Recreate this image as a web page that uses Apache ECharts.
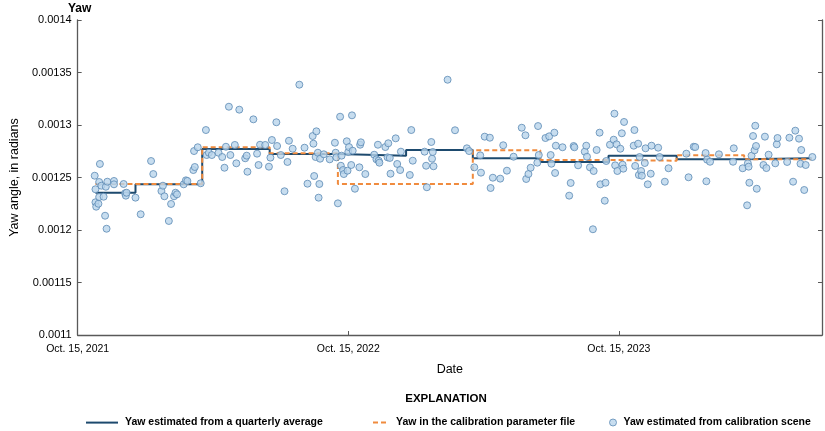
<!DOCTYPE html>
<html><head><meta charset="utf-8">
<script src="https://cdn.jsdelivr.net/npm/echarts@6/dist/echarts.min.js"></script>
<style>html,body{margin:0;padding:0;background:#fff}#c{width:825px;height:431px}</style>
</head><body><div id="c"></div>
<script>
const FONT = "'Liberation Sans',Arial,sans-serif";

// x values are days since Oct. 15, 2021
const xTickDays = [0, 365, 730];
const xTickLabels = ["Oct. 15, 2021", "Oct. 15, 2022", "Oct. 15, 2023"];

// quarter start days (last entry = end of last quarter)
const quarterStartDays = [24, 78, 168, 259, 351, 443, 533, 624, 716, 808, 899, 990];
const quarterlyAverage = [0.0012355, 0.0012435, 0.0012771, 0.0012724, 0.0012708, 0.0012762, 0.0012683, 0.0012648, 0.0012706, 0.0012673, 0.0012683, 0.0012683];
const calibrationParam = [0.0012438, 0.0012438, 0.0012788, 0.0012730, 0.0012438, 0.0012438, 0.0012759, 0.0012667, 0.0012660, 0.0012711, 0.0012673, 0.0012673];

const sceneDays = [23,24,24,25,28,29,29,30,32,35,37,38,39,40,49,49,62,64,65,66,78,85,99,102,113,115,117,123,126,130,132,134,143,146,148,156,157,158,162,166,173,174,177,181,190,195,198,200,204,206,212,214,218,226,228,229,237,242,244,246,253,258,260,262,268,269,274,279,283,285,290,299,306,310,317,318,319,321,322,324,325,326,327,332,340,347,348,349,351,354,355,356,358,359,363,364,365,366,370,369,371,374,380,381,382,388,400,403,405,406,407,415,418,419,421,422,429,431,435,436,448,450,452,468,470,471,477,478,479,480,499,509,525,528,535,543,544,549,556,557,560,570,574,579,588,599,604,605,608,611,620,621,622,631,636,638,639,643,644,645,654,663,665,669,670,675,684,686,687,691,695,696,700,704,705,711,712,713,718,723,724,725,727,728,732,734,735,736,737,750,751,752,756,757,758,760,761,765,766,769,773,774,783,785,792,797,821,824,831,833,847,848,849,853,865,884,885,897,903,904,905,906,909,911,913,914,915,916,925,927,929,932,941,943,944,957,960,965,968,973,975,976,980,982,991];
const sceneYaw = [0.0012517,0.0012388,0.0012264,0.0012222,0.0012250,0.0012457,0.0012314,0.0012629,0.0012422,0.0012317,0.0012136,0.0012412,0.0012012,0.0012460,0.0012467,0.0012435,0.0012438,0.0012350,0.0012327,0.0012355,0.0012308,0.0012150,0.0012657,0.0012533,0.0012371,0.0012422,0.0012321,0.0012086,0.0012248,0.0012321,0.0012355,0.0012340,0.0012435,0.0012473,0.0012467,0.0012571,0.0012752,0.0012600,0.0012788,0.0012445,0.0012952,0.0012714,0.0012736,0.0012714,0.0012736,0.0012695,0.0012593,0.0012793,0.0013174,0.0012714,0.0012810,0.0012635,0.0013146,0.0012683,0.0012708,0.0012555,0.0013054,0.0012727,0.0012619,0.0012812,0.0012810,0.0012603,0.0012689,0.0012857,0.0013026,0.0012800,0.0012714,0.0012369,0.0012648,0.0012850,0.0012774,0.0013384,0.0012784,0.0012441,0.0012895,0.0012822,0.0012514,0.0012695,0.0012940,0.0012736,0.0012308,0.0012438,0.0012679,0.0012721,0.0012673,0.0012831,0.0012736,0.0012692,0.0012254,0.0013079,0.0012612,0.0012708,0.0012571,0.0012533,0.0012845,0.0012565,0.0012743,0.0012790,0.0013092,0.0012619,0.0012755,0.0012393,0.0012597,0.0012812,0.0012835,0.0012533,0.0012717,0.0012673,0.0012812,0.0012660,0.0012641,0.0012790,0.0012692,0.0012826,0.0012686,0.0012536,0.0012873,0.0012629,0.0012571,0.0012746,0.0012524,0.0012952,0.0012660,0.0012746,0.0012612,0.0012407,0.0012838,0.0012679,0.0012743,0.0012607,0.0013431,0.0012950,0.0012778,0.0012752,0.0012597,0.0012711,0.0012546,0.0012889,0.0012879,0.0012400,0.0012498,0.0012489,0.0012807,0.0012565,0.0012698,0.0012974,0.0012902,0.0012486,0.0012533,0.0012593,0.0012641,0.0012990,0.0012714,0.0012876,0.0012892,0.0012714,0.0012631,0.0012927,0.0012543,0.0012803,0.0012788,0.0012327,0.0012448,0.0012800,0.0012788,0.0012616,0.0012746,0.0012803,0.0012698,0.0012597,0.0012007,0.0012562,0.0012762,0.0012927,0.0012435,0.0012279,0.0012450,0.0012657,0.0012812,0.0012860,0.0013108,0.0012616,0.0012816,0.0012562,0.0012774,0.0012921,0.0012622,0.0012584,0.0013029,0.0012803,0.0012952,0.0012610,0.0012822,0.0012524,0.0012695,0.0012562,0.0012517,0.0012638,0.0012778,0.0012435,0.0012536,0.0012803,0.0012784,0.0012695,0.0012460,0.0012588,0.0012727,0.0012502,0.0012793,0.0012790,0.0012733,0.0012464,0.0012670,0.0012650,0.0012721,0.0012650,0.0012778,0.0012588,0.0012235,0.0012635,0.0012603,0.0012450,0.0012708,0.0012895,0.0012759,0.0012993,0.0012800,0.0012393,0.0012619,0.0012889,0.0012590,0.0012717,0.0012635,0.0012816,0.0012876,0.0012648,0.0012879,0.0012460,0.0012946,0.0012870,0.0012631,0.0012762,0.0012381,0.0012619,0.0012695];

const seriesNames = ["Yaw estimated from a quarterly average", "Yaw in the calibration parameter file", "Yaw estimated from calibration scene"];

const BLUE = '#1d4a6e', ORANGE = '#f08b3e', PT_FILL = '#b9d4eb', PT_EDGE = '#5b89b4', AXIS = '#595959';

const LEG_SIZE = 10.5;
const legendText = {fontFamily: FONT, fontSize: LEG_SIZE, fontWeight: 'bold', color: '#000', padding: [0, 0, 0, 2]};
const hiddenSymbol = {opacity: 0, borderWidth: 0};
// place each legend item so that its text ends where the reference text ends
const measureCtx = document.createElement('canvas').getContext('2d');
measureCtx.font = 'bold ' + LEG_SIZE + 'px ' + FONT;
const legendRightEdges = [322, 574, 810];
const legendIconWidths = [32, 16, 7];
const legendLeft = i => Math.round(legendRightEdges[i] - measureCtx.measureText(seriesNames[i]).width - 7 - legendIconWidths[i]);
const LEG_TOP = 417;

const chart = echarts.init(document.getElementById('c'), null, {renderer: 'canvas'});
const yFmt = v => String(+v.toFixed(7));

chart.setOption({
  animation: false,
  backgroundColor: '#fff',
  textStyle: {fontFamily: FONT},
  title: {text: 'Yaw', left: 68, top: 3, padding: 0,
    textStyle: {fontFamily: FONT, fontSize: 12, fontWeight: 'bold', color: '#000'}},
  grid: {left: 68, right: 3, top: 20, bottom: 96, containLabel: false},
  graphic: [{type: 'text', x: 446, y: 399,
    style: {text: 'EXPLANATION', align: 'center', verticalAlign: 'middle', textAlign: 'center', textVerticalAlign: 'middle',
      font: "bold 11.5px " + FONT, fill: '#000'}}],
  legend: [
    {data: [seriesNames[0]], left: legendLeft(0), top: LEG_TOP, padding: 0, itemWidth: legendIconWidths[0], itemHeight: 14, textStyle: legendText, selectedMode: false, itemStyle: hiddenSymbol},
    {data: [seriesNames[1]], left: legendLeft(1), top: LEG_TOP, padding: 0, itemWidth: legendIconWidths[1], itemHeight: 14, textStyle: legendText, selectedMode: false, itemStyle: hiddenSymbol},
    {data: [seriesNames[2]], left: legendLeft(2), top: LEG_TOP, padding: 0, itemWidth: legendIconWidths[2], itemHeight: 14, textStyle: legendText, selectedMode: false,
      itemStyle: {color: PT_FILL, borderColor: PT_EDGE, borderWidth: 1}}
  ],
  xAxis: {
    type: 'value', min: 0, max: 1004, interval: 365,
    name: 'Date', nameLocation: 'middle', nameGap: 28,
    nameTextStyle: {fontFamily: FONT, fontSize: 12.5, color: '#000'},
    axisLine: {lineStyle: {color: AXIS, width: 1.3}},
    axisTick: {inside: true, length: 4, lineStyle: {color: AXIS}},
    splitLine: {show: false},
    axisLabel: {fontFamily: FONT, fontSize: 10.5, color: '#000', margin: 9,
      formatter: v => { const i = xTickDays.indexOf(v); return i >= 0 ? xTickLabels[i] : ''; }}
  },
  yAxis: [{
    type: 'value', min: 0.0011, max: 0.0014, interval: 0.00005,
    name: 'Yaw angle, in radians', nameLocation: 'middle', nameGap: 54,
    nameTextStyle: {fontFamily: FONT, fontSize: 12.5, color: '#000'},
    axisLine: {show: true, lineStyle: {color: AXIS, width: 1.3}},
    axisTick: {show: true, inside: true, length: 4, lineStyle: {color: AXIS}},
    splitLine: {show: false},
    axisLabel: {fontFamily: FONT, fontSize: 11, color: '#000', margin: 6, formatter: yFmt}
  }, {
    type: 'value', min: 0.0011, max: 0.0014, interval: 0.00005, position: 'right',
    axisLine: {show: true, lineStyle: {color: AXIS, width: 1.3}},
    axisTick: {show: true, inside: true, length: 4, lineStyle: {color: AXIS}},
    splitLine: {show: false},
    axisLabel: {show: false}
  }],
  series: [
    {name: seriesNames[0], type: 'line', step: 'end', symbol: 'none', z: 2,
      data: quarterStartDays.map((d, i) => [d, quarterlyAverage[i]]),
      lineStyle: {color: BLUE, width: 2}, itemStyle: {color: BLUE}},
    {name: seriesNames[1], type: 'line', step: 'end', symbol: 'none', z: 3,
      data: quarterStartDays.map((d, i) => [d, calibrationParam[i]]),
      lineStyle: {color: ORANGE, width: 2, type: [5, 3]}, itemStyle: {color: ORANGE}},
    {name: seriesNames[2], type: 'scatter', symbol: 'circle', symbolSize: 7, z: 4,
      data: sceneDays.map((d, i) => [d, sceneYaw[i]]),
      itemStyle: {color: PT_FILL, borderColor: PT_EDGE, borderWidth: 1}}
  ]
});
</script></body></html>
